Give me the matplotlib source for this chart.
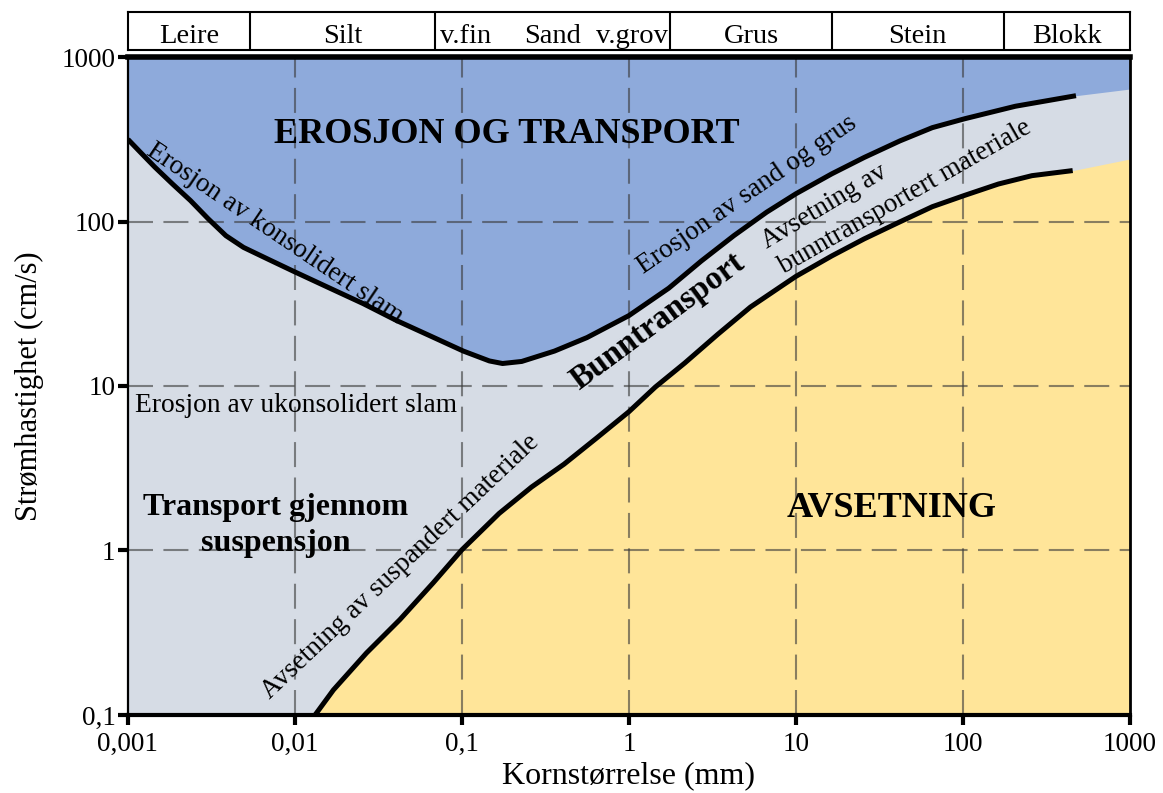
import matplotlib
matplotlib.use('Agg')
from matplotlib import pyplot as plt
from matplotlib.ticker import FixedLocator, NullLocator

plt.rcParams['font.family'] = ['Liberation Serif', 'DejaVu Serif']

# erosion curve (grain size mm, velocity cm/s)
upper_x = [0.001, 0.00119, 0.00145, 0.00185, 0.00237, 0.00302, 0.00386, 0.00492,
           0.00693, 0.00977, 0.0162, 0.0256, 0.0406, 0.0643, 0.102, 0.146, 0.175,
           0.228, 0.358, 0.561, 1.0, 1.73, 2.71, 4.26, 6.68, 10, 16.4, 25.6, 41.9,
           65.5, 102, 206, 475]
upper_y = [316, 263, 214, 169, 134, 104, 82, 69.6,
           58.9, 49.9, 39.3, 31.7, 25.0, 20.2, 16.3, 14.2, 13.7,
           14.1, 16.3, 19.7, 26.8, 39.3, 57.5, 82.2, 114, 147.5, 195, 245, 309,
           372, 421, 502, 582]
upper_end = (1000, 639)

# deposition curve
lower_x = [0.0132, 0.0170, 0.0268, 0.0425, 0.0673, 0.1, 0.167, 0.261, 0.409, 0.641,
           1.0, 1.44, 2.16, 3.40, 5.34, 8.4, 10, 16.4, 25.6, 41.9, 65.5, 102, 163,
           259, 454]
lower_y = [0.1, 0.142, 0.238, 0.380, 0.636, 1.01, 1.68, 2.43, 3.35, 4.83,
           6.98, 9.86, 13.8, 20.6, 30.2, 41.2, 46.4, 61.8, 78.4, 99.5, 123, 144, 169,
           190, 204]
lower_end = (1000, 240)

# grain size classes
class_bounds = [0.001, 0.0054, 0.069, 1.77, 16.4, 175, 1000]
class_names = ['Leire', 'Silt', 'Sand', 'Grus', 'Stein', 'Blokk']

x_ticks = [0.001, 0.01, 0.1, 1, 10, 100, 1000]
x_ticklabels = ['0,001', '0,01', '0,1', '1', '10', '100', '1000']
y_ticks = [0.1, 1, 10, 100, 1000]
y_ticklabels = ['0,1', '1', '10', '100', '1000']

blue = '#8eaadb'
grey = '#d6dce5'
yellow = '#ffe599'

fig = plt.figure(figsize=(11.63, 7.93), dpi=100)
ax = fig.add_axes([0.110, 0.0984, 0.8616, 0.8297])
ax.set_xscale('log')
ax.set_yscale('log')
ax.set_xlim(0.001, 1000)
ax.set_ylim(0.1, 1000)
ax.set_facecolor(grey)

ux = upper_x + [upper_end[0]]
uy = upper_y + [upper_end[1]]
lx = lower_x + [lower_end[0]]
ly = lower_y + [lower_end[1]]
ax.fill_between(ux, uy, 1000, color=blue, lw=0, zorder=1)
ax.fill_between(lx, 0.1, ly, color=yellow, lw=0, zorder=1)

ax.plot(upper_x, upper_y, color='black', lw=3.6, solid_capstyle='butt',
        solid_joinstyle='round', zorder=3)
ax.plot(lower_x, lower_y, color='black', lw=3.6, solid_capstyle='butt',
        solid_joinstyle='round', zorder=3)

for xv in x_ticks[1:-1]:
    ax.axvline(xv, color='#3a3a3a', alpha=0.6, lw=1.5, ls=(0, (12, 5)), zorder=2)
for yv in y_ticks[1:-1]:
    ax.axhline(yv, color='#3a3a3a', alpha=0.6, lw=1.5, ls=(0, (12, 5)), zorder=2)

ax.xaxis.set_major_locator(FixedLocator(x_ticks))
ax.xaxis.set_minor_locator(NullLocator())
ax.set_xticklabels(x_ticklabels)
ax.yaxis.set_major_locator(FixedLocator(y_ticks))
ax.yaxis.set_minor_locator(NullLocator())
ax.set_yticklabels(y_ticklabels)
ax.tick_params(axis='both', direction='out', length=7, width=3, labelsize=19.5,
               color='black')
ax.tick_params(axis='x', pad=5)
ax.tick_params(axis='y', pad=2)

ax.spines['left'].set_linewidth(1.6)
ax.spines['right'].set_linewidth(2)
ax.spines['bottom'].set_linewidth(3)
ax.spines['top'].set_linewidth(4)
for s in ax.spines.values():
    s.set_zorder(5)

ax.set_xlabel('Kornstørrelse (mm)', fontsize=23)
ax.set_ylabel('Strømhastighet (cm/s)', fontsize=22)
ax.xaxis.set_label_coords(0.5, -0.071)
ax.yaxis.set_label_coords(-0.084, 0.5)

# region labels
ax.text(0.186, 340, 'EROSJON OG TRANSPORT', fontsize=26, fontweight='bold',
        ha='center', va='center', zorder=4)
ax.text(37.6, 1.8, 'AVSETNING', fontsize=26, fontweight='bold',
        ha='center', va='center', zorder=4)
ax.text(0.0077, 1.42, 'Transport gjennom\nsuspensjon', fontsize=23, fontweight='bold',
        ha='center', va='center', linespacing=1.3, zorder=4)
ax.text(0.0011, 7.65, 'Erosjon av ukonsolidert slam', fontsize=19.8,
        ha='left', va='center', zorder=4)
ax.text(0.00758, 85, 'Erosjon av konsolidert slam', fontsize=19.5, rotation=-34,
        ha='center', va='center', rotation_mode='anchor', zorder=4)
ax.text(5.13, 146, 'Erosjon av sand og grus', fontsize=19.5, rotation=34.6,
        ha='center', va='center', rotation_mode='anchor', zorder=4)
ax.text(1.49, 24.6, 'Bunntransport', fontsize=23.5, fontweight='bold', rotation=36.6,
        ha='center', va='center', rotation_mode='anchor', zorder=4)
ax.text(14.7, 123, 'Avsetning av', fontsize=19.5, rotation=31,
        ha='center', va='center', rotation_mode='anchor', zorder=4)
ax.text(45, 141, 'bunntransportert materiale', fontsize=19.5, rotation=29.8,
        ha='center', va='center', rotation_mode='anchor', zorder=4)
ax.text(0.0431, 0.797, 'Avsetning av suspandert materiale', fontsize=19.5, rotation=43.5,
        ha='center', va='center', rotation_mode='anchor', zorder=4)

# header with grain size classes
hx = fig.add_axes([0.110, 0.937, 0.8616, 0.048])
hx.set_xscale('log')
hx.set_xlim(0.001, 1000)
hx.set_ylim(0, 1)
hx.set_xticks([])
hx.set_yticks([])
hx.xaxis.set_minor_locator(NullLocator())
for s in hx.spines.values():
    s.set_linewidth(1.5)
for b in class_bounds[1:-1]:
    hx.axvline(b, color='black', lw=1.5)
for i, name in enumerate(class_names):
    xc = (class_bounds[i] * class_bounds[i + 1]) ** 0.5
    hx.text(xc, 0.17, name, fontsize=20.5, ha='center', va='baseline')
hx.text(class_bounds[2] * 1.07, 0.17, 'v.fin', fontsize=20.5, ha='left', va='baseline')
hx.text(class_bounds[3] / 1.03, 0.17, 'v.grov', fontsize=20.5, ha='right', va='baseline')

fig.savefig('out.png', dpi=100)
